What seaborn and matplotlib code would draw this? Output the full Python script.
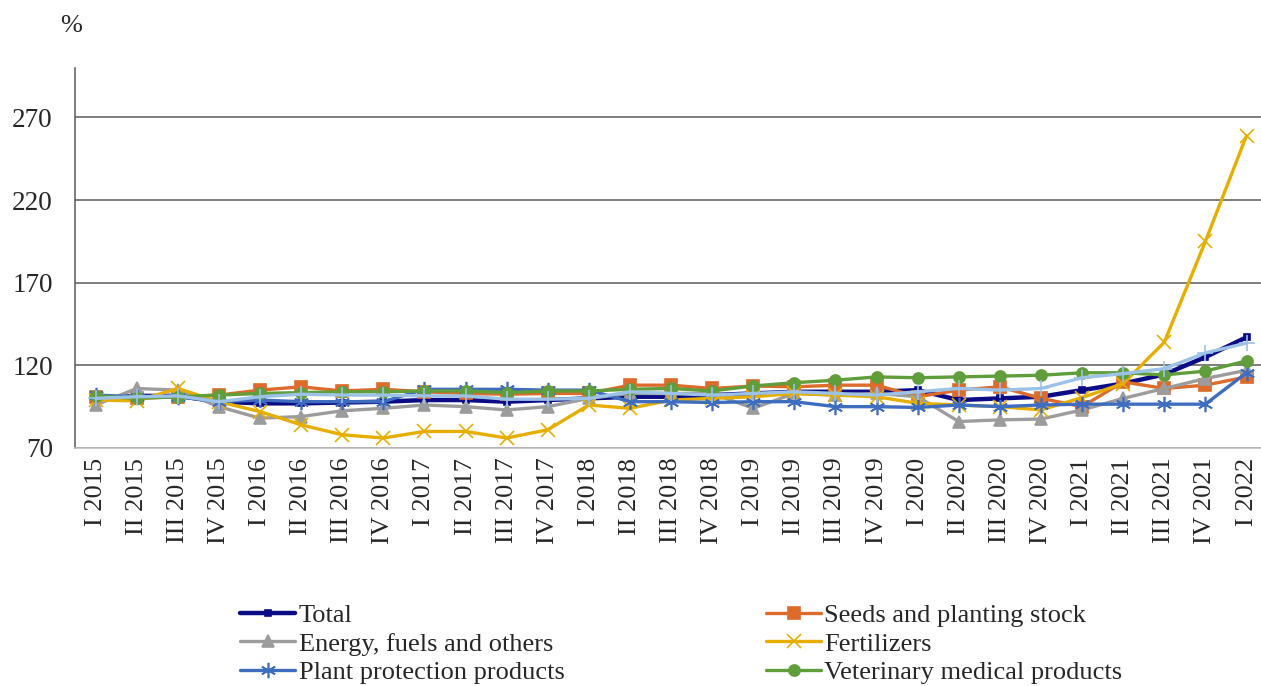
import matplotlib

matplotlib.use("Agg")
import matplotlib.pyplot as plt
import numpy as np
import pandas as pd
import seaborn as sns

# ---------------------------------------------------
# DATA (index values, %)
# ---------------------------------------------------
quarters = [
    "I 2015", "II 2015", "III 2015", "IV 2015",
    "I 2016", "II 2016", "III 2016", "IV 2016",
    "I 2017", "II 2017", "III 2017", "IV 2017",
    "I 2018", "II 2018", "III 2018", "IV 2018",
    "I 2019", "II 2019", "III 2019", "IV 2019",
    "I 2020", "II 2020", "III 2020", "IV 2020",
    "I 2021", "II 2021", "III 2021", "IV 2021",
    "I 2022",
]

total = [100, 101.5, 101.5, 98, 97, 97, 97.5, 98, 99, 99, 98, 99, 100, 101,
         101, 102, 103, 104, 104, 104, 105, 99, 100, 101, 105, 109, 114.5,
         125, 137]
seeds = [101, 100, 101, 102, 105, 107, 104.5, 105.5, 104, 103, 102.5, 103,
         103, 108, 108, 106, 107.5, 107, 108, 108, 101, 105, 107, 100, 95,
         110, 106, 108, 113]
energy = [96, 106, 105, 95, 88, 89, 92.5, 94, 96, 95, 93, 95, 100, 103, 103,
          103, 94, 103, 102, 103, 101, 86, 87, 87.5, 93, 100, 106, 112, 117]
fertilizers = [99, 98.5, 106, 98, 92, 84, 78, 76, 80, 80, 76, 81, 96, 94, 99,
               100, 101, 103, 102, 101, 97, 96, 95, 93, 100.5, 109, 134, 195,
               259]
plant_protection = [102, 101, 101, 98, 99, 98, 98, 98, 105.5, 105.5, 105.5,
                    105, 105, 98, 98, 97.5, 98, 98, 95, 95, 94.5, 96, 95,
                    96, 96.5, 96.5, 96.5, 96.5, 115.5]
veterinary = [101.5, 100, 101, 102, 103, 103.5, 104, 104, 104.5, 104.5, 103.5,
              104.5, 104.5, 105.5, 106, 104.5, 107.5, 109.5, 111, 113, 112.5,
              113, 113.5, 114, 115.5, 115.5, 114.2, 116.5, 122.7]
# seventh series drawn in the chart but not listed in its legend
other = [100, 101, 101.5, 98, 101, 102.5, 102, 102, 101.5, 101.5, 99.5, 99.5,
         100, 104, 103, 102, 103, 104, 103, 102, 104, 106, 105, 106, 112.5,
         115, 118, 127.5, 133.5]

y_ticks = [70, 120, 170, 220, 270]

# ---------------------------------------------------
# STYLE
# ---------------------------------------------------
sns.set_style("white")
plt.rcParams["font.family"] = ["Liberation Serif", "DejaVu Serif"]

SERIES = [
    ("Total", total, "#0B0B85", "s", 5, 3.2),
    ("Seeds and planting stock", seeds, "#DC6B2C", "s", 8, 2.4),
    ("Energy, fuels and others", energy, "#9C9C9C", "^", 9, 2.4),
    ("Fertilizers", fertilizers, "#E6AE00", "x", 10, 2.4),
    ("Plant protection products", plant_protection, "#3E6DBF", (6, 2, 0), 11, 2.4),
    ("Veterinary medical products", veterinary, "#5F9E3A", "o", 8, 2.4),
    (None, other, "#9CC2E8", "+", 12, 2.4),
]

fig = plt.figure(figsize=(12.61, 6.86), dpi=100)
ax = fig.add_axes([0.0595, 0.347, 0.9453, 0.554])

x = np.arange(len(quarters))
handles = {}
for name, vals, color, marker, msize, lw in SERIES:
    df = pd.DataFrame({"q": x, "v": vals})
    sns.lineplot(
        data=df, x="q", y="v", ax=ax, color=color, linewidth=lw,
        marker=marker, markersize=msize, markeredgecolor=color,
        markeredgewidth=1.2, markerfacecolor=color, sort=False,
        label=name if name else "_nolegend_",
    )
    if name:
        handles[name] = ax.lines[-1]

ax.set_xlim(-0.5, len(quarters) - 0.5)
ax.set_ylim(70, 300)
ax.set_yticks(y_ticks)
ax.yaxis.grid(True, color="#5A5A5A", linewidth=1.1)
ax.set_axisbelow(True)
ax.set_xlabel("")
ax.set_ylabel("")

ax.set_xticks(x)
ax.set_xticklabels(quarters, rotation=90, fontsize=19)
ax.set_xticks(np.arange(len(quarters) + 1) - 0.5, minor=True)
ax.tick_params(axis="x", which="major", length=0, pad=7)
ax.tick_params(axis="x", which="minor", length=8, color="#BFBFBF", width=1.2)
ax.tick_params(axis="y", length=0, labelsize=19.5, pad=16)

for side in ["top", "right"]:
    ax.spines[side].set_visible(False)
ax.spines["left"].set_color("#5A5A5A")
ax.spines["left"].set_linewidth(1.1)
ax.spines["bottom"].set_color("#BFBFBF")
ax.spines["bottom"].set_linewidth(1.2)

fig.text(0.056, 0.962, "%", fontsize=19, ha="center", va="center")

ax.get_legend().remove()
order = [
    "Total", "Energy, fuels and others", "Plant protection products",
    "Seeds and planting stock", "Fertilizers", "Veterinary medical products",
]
fig.legend(
    [handles[n] for n in order], order, ncol=2, frameon=False,
    loc="lower left", bbox_to_anchor=(0.1757, -0.0244), fontsize=19,
    handlelength=2.1, handletextpad=0.12, columnspacing=7.63,
    labelspacing=0.2, borderpad=0.2,
)

fig.savefig("out.png", dpi=100)
